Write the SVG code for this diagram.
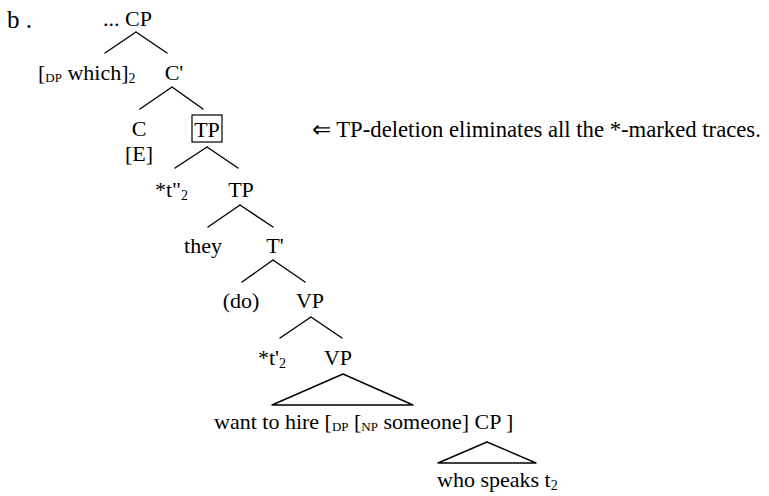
<svg xmlns="http://www.w3.org/2000/svg" width="769" height="496" viewBox="0 0 769 496" font-family="'Liberation Serif', 'Times New Roman', serif">
<style>
text{font-family:'Liberation Serif','Times New Roman',serif;font-size:22px;fill:#000}
.c{text-anchor:middle}
.sub{font-size:13px}
.sub2{font-size:14px}
.ann{font-size:22.7px}
.edge{stroke:#000;stroke-width:1.4;fill:none;stroke-linecap:round;stroke-linejoin:round}
.box{stroke:#000;stroke-width:1.2;fill:none}
</style>
<rect width="769" height="496" fill="#fff"/>
<g id="label-b"><text x="7" y="28" style="font-size:25px">b .</text></g>
<g id="n-cp"><text x="103" y="26">... CP</text></g>
<g id="n-dp-which"><text x="38" y="80">[<tspan class="sub" dy="2">DP</tspan><tspan dy="-2"> which]</tspan><tspan class="sub2" dy="3">2</tspan></text></g>
<g id="n-cbar"><text class="c" x="174" y="80">C'</text></g>
<g id="n-c"><text class="c" x="139" y="136">C</text><text class="c" x="139" y="161">[E]</text></g>
<g id="n-tp1"><rect class="box" x="192" y="115" width="30" height="27"/><text class="c" x="207" y="137">TP</text></g>
<g id="n-t2pp"><text x="155" y="197">*t"<tspan class="sub2" dy="3">2</tspan></text></g>
<g id="n-tp2"><text class="c" x="241" y="197">TP</text></g>
<g id="n-they"><text class="c" x="203" y="253">they</text></g>
<g id="n-tbar"><text class="c" x="275" y="253">T'</text></g>
<g id="n-do"><text class="c" x="241" y="308">(do)</text></g>
<g id="n-vp1"><text class="c" x="310" y="308">VP</text></g>
<g id="n-t2p"><text x="258" y="365">*t'<tspan class="sub2" dy="3">2</tspan></text></g>
<g id="n-vp2"><text class="c" x="338" y="365">VP</text></g>
<g id="n-want"><text x="214" y="429">want to hire [<tspan class="sub" dy="2">DP</tspan><tspan dy="-2"> [</tspan><tspan class="sub" dy="2">NP</tspan><tspan dy="-2"> someone] CP ]</tspan></text></g>
<g id="n-who"><text x="437" y="487">who speaks t<tspan class="sub2" dy="3">2</tspan></text></g>
<g id="annotation"><text class="ann" x="312" y="137">⇐ TP-deletion eliminates all the *-marked traces.</text></g>
<g id="connectors">
<path class="edge" d="M136 32 L105 53 M136 32 L167 53"/>
<path class="edge" d="M172 87 L140 109 M172 87 L203 109"/>
<path class="edge" d="M207 147 L175 168 M207 147 L238 168"/>
<path class="edge" d="M240 205 L208 227 M240 205 L273 227"/>
<path class="edge" d="M273 260 L242 282 M273 260 L305 282"/>
<path class="edge" d="M311 317 L280 338 M311 317 L342 338"/>
<path class="edge" d="M343 374 L272 405 L413 405 Z"/>
<path class="edge" d="M487 442 L438 463 L536 463 Z"/>
</g>
</svg>
